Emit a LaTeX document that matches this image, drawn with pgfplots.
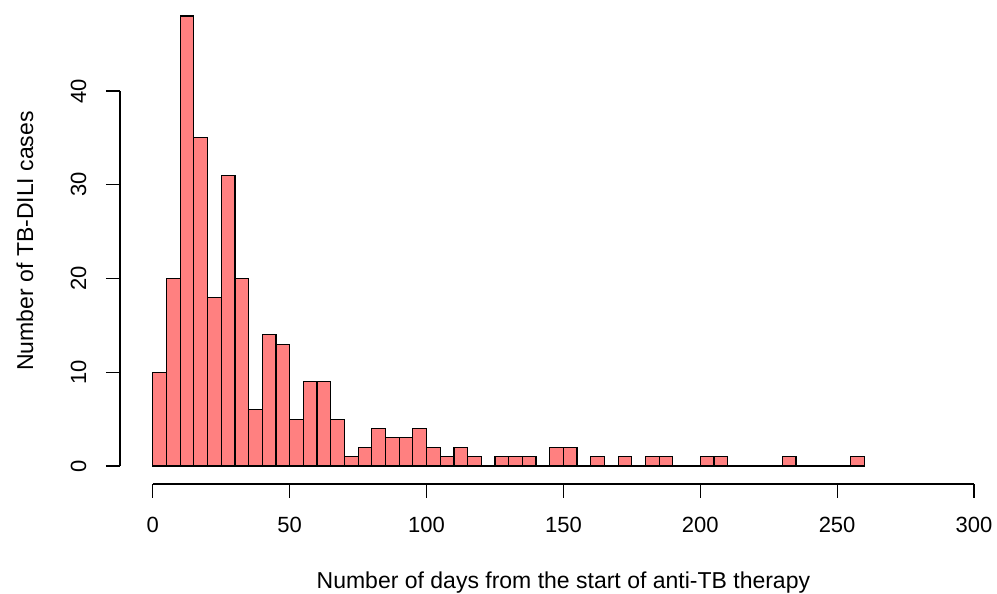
\documentclass[border=0pt]{standalone}
\usepackage{fontspec}
\setmainfont{Liberation Sans}
\usepackage{pgfplots}
\pgfplotsset{compat=1.18}
\definecolor{barfill}{HTML}{FF8080}

\begin{document}
\begin{tikzpicture}
\begin{axis}[
    at={(0,0)}, anchor=south west,
    scale only axis,
    width=443.4pt, height=243pt,
    xmin=-12, xmax=312, ymin=-1.92, ymax=49.92,
    axis x line*=bottom, axis y line*=left,
    x axis line style={shorten <=16.42pt, shorten >=16.42pt},
    y axis line style={shorten <=9pt, shorten >=46.5pt},
    axis line style={line width=0.6pt},
    xtick={0,50,...,300}, ytick={0,10,...,40},
    xtick pos=bottom, ytick pos=left,
    tick align=outside, major tick length=7pt,
    tick style={black, line width=0.6pt},
    /pgf/number format/assume math mode=true,
    ticklabel style={font=\fontsize{11}{13}\selectfont},
    xticklabel shift=5.8pt,
    yticklabel style={rotate=90, anchor=south},
    yticklabel shift=6.3pt,
    xlabel={Number of days from the start of anti-TB therapy},
    ylabel={Number of TB-DILI cases},
    label style={font=\fontsize{11.5}{14}\selectfont},
    xlabel style={at={(axis description cs:0.5,-0.216)}, anchor=base},
    ylabel style={at={(axis description cs:-0.0981,0.5)}, anchor=base},
]
% histogram, bins of 5 days (left edges), last point closes the final bin
\addplot[ybar interval, fill=barfill, draw=black, line width=0.6pt] coordinates {
(0,10) (5,20) (10,48) (15,35) (20,18) (25,31) (30,20) (35,6) (40,14) (45,13)
(50,5) (55,9) (60,9) (65,5) (70,1) (75,2) (80,4) (85,3) (90,3) (95,4)
(100,2) (105,1) (110,2) (115,1) (120,0) (125,1) (130,1) (135,1) (140,0) (145,2)
(150,2) (155,0) (160,1) (165,0) (170,1) (175,0) (180,1) (185,1) (190,0) (195,0)
(200,1) (205,1) (210,0) (215,0) (220,0) (225,0) (230,1) (235,0) (240,0) (245,0)
(250,0) (255,1) (260,0)
};
\end{axis}
\pgfresetboundingbox
\path[use as bounding box] (-60pt,-55pt) rectangle (438.5pt,242pt);
\end{tikzpicture}
\end{document}
